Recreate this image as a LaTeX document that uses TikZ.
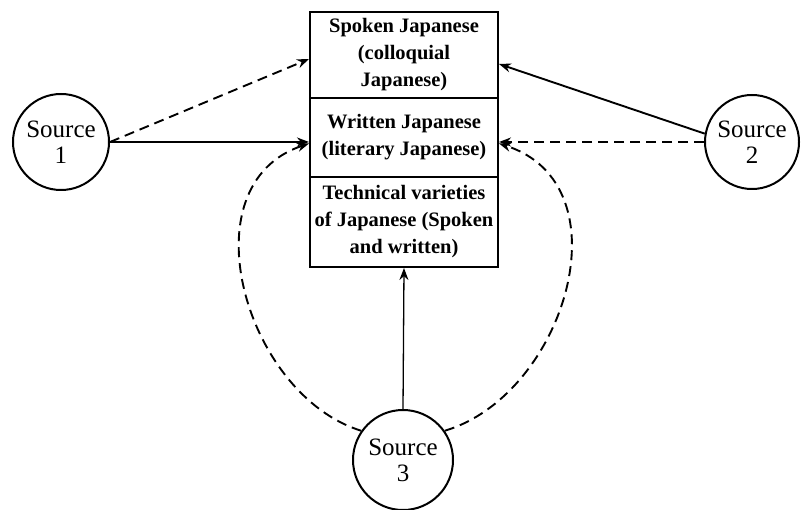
\documentclass[tikz,border=0pt]{standalone}
\usepackage{fontspec}
\setmainfont{Liberation Serif}
\usetikzlibrary{arrows.meta,calc}
\begin{document}
\begin{tikzpicture}[x=1pt,y=-1pt,
  every path/.style={line width=1.9pt},
  lay/.style={draw,line width=2pt,rectangle,minimum width=188pt,inner sep=0pt,align=center,
     font=\fontsize{20.5}{27}\selectfont\bfseries},
  src/.style={draw,line width=2pt,circle,minimum size=96pt,inner sep=0pt,align=center,
     font=\fontsize{25}{26}\selectfont},
  arr/.style={-{Stealth[length=12pt,width=9pt]}},
  dsh/.style={dash pattern=on 10pt off 6pt}]
\useasboundingbox (0,0) rectangle (802,510);
\node[lay,minimum height=86pt] (spoken) at (404,55) {Spoken Japanese\\(colloquial\\Japanese)};
\node[lay,minimum height=79pt] (written) at (404,137.5) {Written Japanese\\(literary Japanese)};
\node[lay,minimum height=90pt] (tech) at (404,222) {Technical varieties\\of Japanese (Spoken\\and written)};
\node[src] (s1) at (61,142) {Source\\1};
\node[src,minimum size=94pt] (s2) at (752,142) {Source\\2};
\node[src,minimum size=100pt] (s3) at (403,460) {Source\\3};
% source 1
\draw[arr] (s1.east) -- (s1.east -| written.west);
\draw[arr,dsh] (s1.east) -- ([yshift=-4pt]spoken.west);
% source 2
\draw[arr] (s2.170) -- ([yshift=-9pt]spoken.east);
\draw[arr,dsh] (s2.west) -- (s2.west -| written.east);
% source 3
\draw[arr,line width=1.3pt] (s3.north) -- (tech.south);
\draw[arr,dsh] (s3.145) .. controls (245,395) and (185,185) .. ([yshift=-6pt]written.west);
\draw[arr,dsh] (s3.35) .. controls (565,395) and (628,185) .. ([yshift=-6pt]written.east);
\end{tikzpicture}
\end{document}
